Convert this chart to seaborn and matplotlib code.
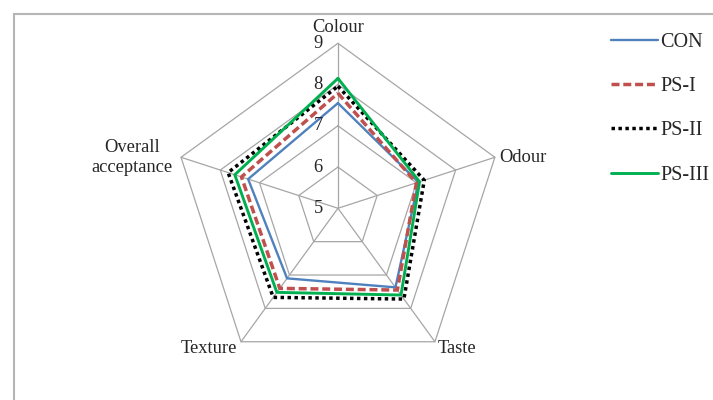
import numpy as np
import pandas as pd
import matplotlib
matplotlib.use("Agg")
import matplotlib.pyplot as plt
import seaborn as sns
from matplotlib.lines import Line2D

categories = ["Colour", "Odour", "Taste", "Texture", "Overall\nacceptance"]
series = ["CON", "PS-I", "PS-II", "PS-III"]
con = [7.55, 7.05, 7.37, 7.10, 7.29]
ps1 = [7.79, 7.00, 7.45, 7.40, 7.46]
ps2 = [7.96, 7.20, 7.72, 7.67, 7.80]
ps3 = [8.15, 7.08, 7.60, 7.52, 7.63]
levels = [6, 7, 8, 9]
r_min, r_max = 5, 9

colors = {"CON": "#4F81BD", "PS-I": "#C0504D", "PS-II": "#000000", "PS-III": "#00B050"}
styles = {"CON": "-", "PS-I": (0, (2.3, 1.1)), "PS-II": (0, (1, 1)), "PS-III": "-"}
widths = {"CON": 1.7, "PS-I": 2.5, "PS-II": 2.5, "PS-III": 2.1}

sns.set_style("white")
plt.rcParams["font.family"] = ["Liberation Serif", "DejaVu Serif"]

n = len(categories)
angles = np.linspace(0, 2 * np.pi, n, endpoint=False)
closed = np.append(angles, 2 * np.pi)

rows = []
for name, vals in zip(series, [con, ps1, ps2, ps3]):
    for i, a in enumerate(closed):
        rows.append({"series": name, "theta": a, "value": vals[i % n], "order": i})
df = pd.DataFrame(rows)

fig = plt.figure(figsize=(7.13, 4.0), dpi=100)
ax = fig.add_axes([0.2426, 0.0668, 0.4628, 0.825], projection="polar")
ax.set_theta_offset(np.pi / 2)
ax.set_theta_direction(-1)
ax.set_ylim(r_min, r_max)
ax.grid(False)
ax.spines["polar"].set_visible(False)
ax.set_xticks([])
ax.set_yticks([])
ax.patch.set_alpha(0)

# pentagon grid + spokes
grid_col = "#A6A6A6"
for lv in levels:
    ax.plot(closed, [lv] * len(closed), color=grid_col, lw=0.9, zorder=1, clip_on=False)
for a in angles:
    ax.plot([a, a], [r_min, r_max], color=grid_col, lw=0.9, zorder=1, clip_on=False)

for name in series:
    sub = df[df["series"] == name].sort_values("order")
    sns.lineplot(data=sub, x="theta", y="value", sort=False, ax=ax,
                 color=colors[name], linestyle=styles[name], lw=widths[name],
                 label=name, zorder=3, clip_on=False, legend=False)
ax.set_xlabel("")
ax.set_ylabel("")
ax.set_xlim(0, 2 * np.pi)
ax.set_ylim(r_min, r_max)

fs = 13.3
for lv in [5, 6, 7, 8, 9]:
    ax.annotate(str(lv), xy=(0, lv), xytext=(-11, 0), textcoords="offset points",
                ha="right", va="center", fontsize=fs)

offsets = [((0, 5.5), "center", "bottom"),
           ((3, 0), "left", "center"),
           ((2, -5), "left", "center"),
           ((-3, -5), "right", "center"),
           ((-6, 0), "right", "center")]
for a, lab, (off, ha, va) in zip(angles, categories, offsets):
    ax.annotate(lab, xy=(a, r_max), xytext=off, textcoords="offset points",
                ha=ha, va=va, fontsize=fs, multialignment="center", annotation_clip=False)

handles = [Line2D([0], [0], color=colors[s], linestyle=styles[s], lw=widths[s]) for s in series]
fig.legend(handles, series, loc="upper left", bbox_to_anchor=(0.857, 0.918),
           frameon=False, fontsize=14.5, handlelength=2.35, handletextpad=0.1,
           labelspacing=1.25, borderaxespad=0, borderpad=0)

frame_col = "#B5B5B5"
fig.add_artist(Line2D([14 / 713, 1], [1 - 14 / 400, 1 - 14 / 400], color=frame_col, lw=1.5,
                      transform=fig.transFigure))
fig.add_artist(Line2D([14 / 713, 14 / 713], [0, 1 - 14 / 400], color=frame_col, lw=1.5,
                      transform=fig.transFigure))

fig.savefig("out.png", dpi=100)
